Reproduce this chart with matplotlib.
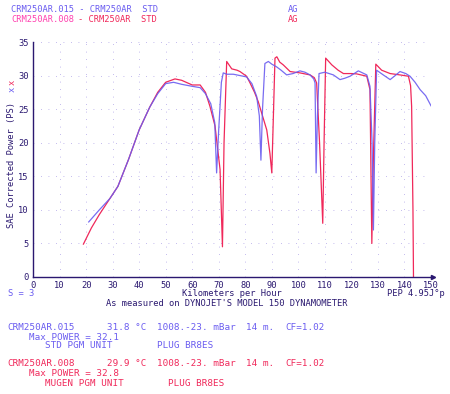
import numpy as np
import matplotlib
matplotlib.use("Agg")
import matplotlib.pyplot as plt

# --- data ---
# run .015 (STD PGM unit) - blue
std_speed = [21, 25, 29, 32, 36, 40, 44, 47, 50, 53, 56, 60, 63, 65, 67, 68.5, 69.2, 70.0, 71.0,
             71.7, 73, 75.5, 78, 80.5, 82.5, 84.3, 85.3, 85.9, 86.5, 87.4, 88.7, 90, 91.8, 93.5,
             95.6, 98, 100.6, 102.5, 104.4, 105.8, 106.3, 106.7, 107.2, 107.8, 110, 113.2, 115.7,
             117.5, 119.5, 122.6, 125.8, 127, 127.8, 128.3, 128.8, 129.5, 132, 134.6, 136.5, 138.3,
             140.5, 142.1, 144, 145.9, 148, 150]
std_power = [8.2, 10.0, 11.7, 13.5, 17.5, 21.9, 25.3, 27.3, 28.8, 29.0, 28.7, 28.4, 28.2, 27.3,
             25.8, 23.0, 15.5, 22.0, 29.0, 30.4, 30.2, 30.2, 30.0, 29.8, 28.8, 26.9, 24.0, 17.4,
             25.0, 31.8, 32.1, 31.7, 31.3, 30.8, 30.1, 30.3, 30.7, 30.5, 30.1, 29.5, 28.9, 15.5,
             24.0, 30.3, 30.5, 30.1, 29.4, 29.6, 29.9, 30.7, 30.1, 28.4, 20.0, 7.0, 20.0, 30.8,
             30.1, 29.4, 30.0, 30.6, 30.3, 29.9, 29.0, 27.9, 27.0, 25.5]

# run .008 (MUGEN PGM unit) - red
mugen_speed = [19, 22, 25, 29, 32, 36, 40, 44, 47, 50, 53.5, 56, 60, 63, 65, 66.7, 68.6, 70.5,
               71.4, 72.0, 73, 74.9, 76.9, 78, 80.5, 81.8, 83.5, 84.9, 86.5, 88.1, 89.3, 90,
               90.6, 91.2, 91.9, 93, 94.3, 96.9, 100.6, 104.4, 106.0, 106.9, 108.0, 109.2, 109.7,
               110.3, 112.6, 115, 117, 120, 122, 125.8, 127, 127.7, 128.3, 129.2, 131.4, 134.6,
               138.3, 141.5, 142.3, 142.7, 143.2, 143.4]
mugen_power = [4.9, 7.3, 9.3, 11.7, 13.5, 17.5, 21.9, 25.3, 27.5, 29.0, 29.5, 29.3, 28.6, 28.6,
               27.5, 25.4, 22.5, 16.0, 4.5, 20.0, 32.1, 31.0, 30.8, 30.6, 29.9, 28.9, 27.5, 26.1,
               24.0, 21.9, 18.4, 15.5, 24.0, 32.6, 32.8, 32.0, 31.6, 30.6, 30.4, 30.1, 29.7, 28.9,
               20.0, 8.0, 20.0, 32.6, 31.6, 30.8, 30.3, 30.3, 30.25, 29.9, 27.9, 5.0, 18.0, 31.7,
               30.8, 30.3, 30.1, 29.9, 28.5, 25.4, 10.0, 0.0]

x_ticks = list(range(0, 151, 10))
y_ticks = list(range(0, 36, 5))

BLUE = "#6a5cf0"
RED = "#f0285a"
PINK = "#ff40b0"
NAVY = "#2a1870"
FONT = "DejaVu Sans Mono"
FS = 6.3

fig = plt.figure(figsize=(4.5, 3.94), dpi=100)
ax = fig.add_axes([33 / 450, 1 - 277 / 394, 398 / 450, 235 / 394])

ax.plot(mugen_speed, mugen_power, color=RED, lw=0.9)
ax.plot(std_speed, std_power, color=BLUE, lw=0.9, alpha=0.9)

ax.set_xlim(0, 150)
ax.set_ylim(0, 35)
ax.set_xticks(x_ticks)
ax.set_yticks(y_ticks)
ax.tick_params(length=0, labelsize=FS, colors=NAVY, pad=3)
for lbl in ax.get_xticklabels() + ax.get_yticklabels():
    lbl.set_family(FONT)
ax.grid(True, color="#b0a4e8", linestyle=(0, (1, 8)), lw=0.6)
for s in ["top", "right"]:
    ax.spines[s].set_visible(False)
for s in ["left", "bottom"]:
    ax.spines[s].set_color(NAVY)
    ax.spines[s].set_linewidth(1.0)
ax.plot(1.005, 0, ">", color=NAVY, ms=3, transform=ax.transAxes, clip_on=False)

# header lines
fig.text(11 / 450, 1 - 9 / 394, "CRM250AR.015 - CRM250AR  STD", color=BLUE, fontsize=FS,
         family=FONT, va="center")
fig.text(288 / 450, 1 - 9 / 394, "AG", color=BLUE, fontsize=FS, family=FONT, va="center")
fig.text(11 / 450, 1 - 19 / 394, "CRM250AR.008", color=PINK, fontsize=FS, family=FONT, va="center")
fig.text(78 / 450, 1 - 19 / 394, "- CRM250AR  STD", color=RED, fontsize=FS, family=FONT,
         va="center")
fig.text(288 / 450, 1 - 19 / 394, "AG", color=RED, fontsize=FS, family=FONT, va="center")

# y label with series markers
fig.text(12 / 450, 1 - 165 / 394, "SAE Corrected Power (PS)", color=NAVY, fontsize=FS,
         family=FONT, rotation=90, ha="center", va="center")
fig.text(12 / 450, 1 - 89 / 394, "x", color=BLUE, fontsize=FS, family=FONT, rotation=90,
         ha="center", va="center")
fig.text(12 / 450, 1 - 82 / 394, "x", color=RED, fontsize=FS, family=FONT, rotation=90,
         ha="center", va="center")

# under the axes
fig.text(8 / 450, 1 - 294 / 394, "S = 3", color=BLUE, fontsize=FS, family=FONT, va="center")
fig.text(232 / 450, 1 - 294 / 394, "Kilometers per Hour", color=NAVY, fontsize=FS, family=FONT,
         ha="center", va="center")
fig.text(445 / 450, 1 - 294 / 394, "PEP 4.95J\u00b0p", color=NAVY, fontsize=FS, family=FONT,
         ha="right", va="center")
fig.text(227 / 450, 1 - 303 / 394, "As measured on DYNOJET'S MODEL 150 DYNAMOMETER", color=NAVY,
         fontsize=FS, family=FONT, ha="center", va="center")

# run details
blocks = [
    (327, BLUE, "CRM250AR.015", "31.8 \u00b0C", "32.1", "STD PGM UNIT", 157),
    (364, RED, "CRM250AR.008", "29.9 \u00b0C", "32.8", "MUGEN PGM UNIT", 168),
]
for y0, col, run, temp, pmax, unit, plug_x in blocks:
    def put(x, dy, s):
        fig.text(x / 450, 1 - (y0 + dy) / 394, s, color=col, fontsize=FS + 0.4, family=FONT,
                 va="center")
    put(7, 0, run)
    put(107, 0, temp)
    put(157, 0, "1008.-23. mBar")
    put(246, 0, "14 m.")
    put(285, 0, "CF=1.02")
    put(29, 10, "Max POWER = " + pmax)
    put(45, 19, unit)
    put(plug_x, 19, "PLUG BR8ES")

fig.savefig("out.png", dpi=100, facecolor="white")
